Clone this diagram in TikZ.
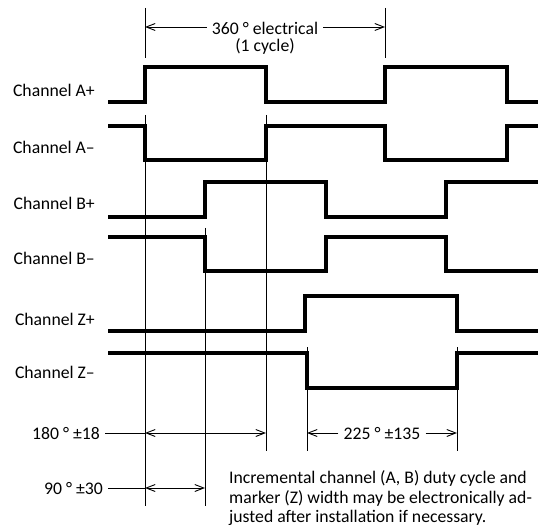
\documentclass[tikz,border=0pt]{standalone}
\usepackage{fontspec}
\setmainfont{Carlito}
\usetikzlibrary{arrows.meta}
\begin{document}
\begin{tikzpicture}[x=1pt,y=-1pt,
  wave/.style={line width=3.4pt, line join=miter},
  thin/.style={line width=0.9pt},
  dimarrow/.style={line width=0.9pt, -{Straight Barb[length=9pt,width=7pt]}},
  dimboth/.style={line width=0.9pt, {Straight Barb[length=9pt,width=7pt]}-{Straight Barb[length=9pt,width=7pt]}},
  lbl/.style={font=\fontsize{17.7}{20}\selectfont, inner sep=0pt}
]
\useasboundingbox (0,0) rectangle (538,529);

% channel labels
\node[lbl, anchor=base east] (lAp) at (95,96.7) {Channel A+};
\node[lbl, anchor=base east] (lAm) at (95,154) {Channel A–};
\node[lbl, anchor=base east] (lBp) at (95,210) {Channel B+};
\node[lbl, anchor=base east] (lBm) at (95,265) {Channel B–};
\node[lbl, anchor=base east] (lZp) at (95,325) {Channel Z+};
\node[lbl, anchor=base east] (lZm) at (95,378) {Channel Z–};

% waveforms
\draw[wave] (108,102) -- (145,102) -- (145,67) -- (266,67) -- (266,102) -- (385,102) -- (385,67) -- (507,67) -- (507,102) -- (538,102);
\draw[wave] (108,126) -- (145,126) -- (145,160) -- (266,160) -- (266,126) -- (385,126) -- (385,160) -- (507,160) -- (507,126) -- (538,126);
\draw[wave] (108,217) -- (205,217) -- (205,182) -- (326,182) -- (326,217) -- (446,217) -- (446,182) -- (538,182);
\draw[wave] (108,237) -- (205,237) -- (205,271) -- (326,271) -- (326,237) -- (446,237) -- (446,271) -- (538,271);
\draw[wave] (108,331) -- (305,331) -- (305,296) -- (457,296) -- (457,331) -- (538,331);
\draw[wave] (108,353) -- (307,353) -- (307,388) -- (457,388) -- (457,353) -- (538,353);

% reference lines
\draw[thin] (145,8) -- (145,58);
\draw[thin] (385,8) -- (385,58);
\draw[thin] (145,115) -- (145,506);
\draw[thin] (266,115) -- (266,451);
\draw[thin] (205,228) -- (205,506);
\draw[thin] (307,347) -- (307,451);
\draw[thin] (457,347) -- (457,451);

% 360 dimension
\coordinate (t1) at (145,27);
\coordinate (t2) at (385,27);
\node[lbl, anchor=base, inner xsep=5pt] (e360) at (265,35) {360 ° electrical};
\node[lbl, anchor=base] (cyc) at (265,52) {(1 cycle)};
\draw[dimarrow] (e360.west |- t1) -- (t1);
\draw[dimarrow] (e360.east |- t2) -- (t2);

% 180 dimension
\coordinate (a1) at (145,433);
\coordinate (a2) at (266,433);
\node[lbl, anchor=base east, inner xsep=5pt] (l180) at (105,439) {180 ° ±18};
\draw[thin] (l180.east |- a1) -- (a1);
\draw[dimboth] (a1) -- (a2);

% 90 dimension
\coordinate (b1) at (145,488);
\coordinate (b2) at (205,488);
\node[lbl, anchor=base east, inner xsep=5pt] (l90) at (108,494) {90 ° ±30};
\draw[thin] (l90.east |- b1) -- (b1);
\draw[dimboth] (b1) -- (b2);

% 225 dimension
\coordinate (c1) at (307,433);
\coordinate (c2) at (457,433);
\node[lbl, anchor=base, inner xsep=5pt] (l225) at (382,439) {225 ° ±135};
\draw[dimarrow] (l225.west |- c1) -- (c1);
\draw[dimarrow] (l225.east |- c2) -- (c2);

% note
\node[lbl, anchor=base west] (n1) at (229,483) {Incremental channel (A, B) duty cycle and};
\node[lbl, anchor=base west] (n2) at (229,503) {marker (Z) width may be electronically ad-};
\node[lbl, anchor=base west] (n3) at (229,522) {justed after installation if necessary.};
\end{tikzpicture}
\end{document}
